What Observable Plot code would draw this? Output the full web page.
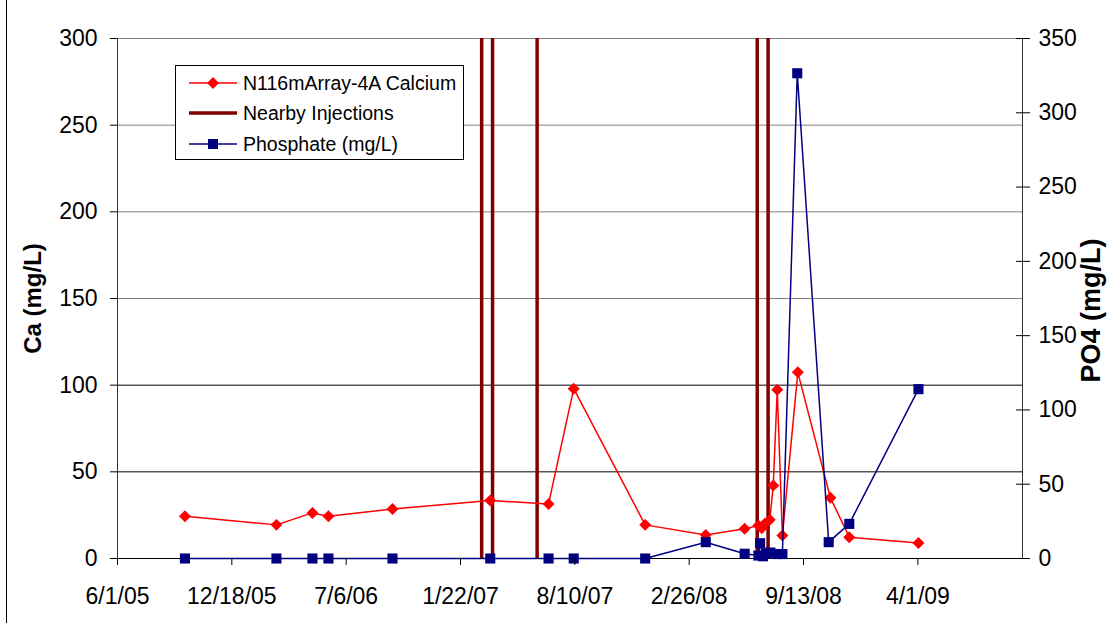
<!DOCTYPE html>
<html>
<head>
<meta charset="utf-8">
<script src="https://cdn.jsdelivr.net/npm/d3@7"></script>
<script src="https://cdn.jsdelivr.net/npm/@observablehq/plot@0.6"></script>
<style>
  html, body { margin: 0; padding: 0; background: #fff; }
  #wrap { position: relative; width: 1107px; height: 623px; overflow: hidden; font-family: "Liberation Sans", Arial, sans-serif; }
  #edge { position: absolute; left: 6px; top: 0; width: 1px; height: 623px; background: #000; }
  #legend { position: absolute; left: 175px; top: 65px; width: 289px; height: 95px; border: 1px solid #000; background: #fff; box-sizing: border-box; }
  .item { position: absolute; left: 0; height: 24px; display: flex; align-items: center; font-size: 19.5px; color: #000; white-space: nowrap; }
  .item svg { margin-left: 12px; margin-right: 5px; }
</style>
</head>
<body>
<div id="wrap">
  <div id="chart"></div>
  <div id="edge"></div>
  <div id="legend"></div>
</div>
<script>
// ---- data ----
const caDates = ["2005-09-27","2006-03-06","2006-05-08","2006-06-05","2006-09-25","2007-03-15","2007-06-25","2007-08-08","2007-12-11","2008-03-26","2008-06-02","2008-06-26","2008-07-02","2008-07-07","2008-07-16","2008-07-22","2008-07-29","2008-08-07","2008-09-03","2008-10-30","2008-12-02","2009-04-02"];
const caValues = [24.4, 19.4, 26.3, 24.4, 28.5, 33.4, 31.5, 98, 19.4, 13.5, 17.1, 19.0, 17.5, 20.0, 22.3, 42.1, 97.3, 13.3, 107.4, 35.0, 12.3, 9.0];

const po4Dates = ["2005-09-27","2006-03-06","2006-05-08","2006-06-05","2006-09-25","2007-03-15","2007-06-25","2007-08-08","2007-12-11","2008-03-26","2008-06-02","2008-06-26","2008-06-29","2008-07-04","2008-07-10","2008-07-17","2008-07-29","2008-08-07","2008-09-02","2008-10-27","2008-12-02","2009-04-02"];
const po4Values = [0, 0, 0, 0, 0, 0, 0, 0, 0, 11, 3.2, 2, 10.3, 1.5, 3.5, 4, 3, 3, 326.6, 11, 23.3, 114];

const injectionDates = ["2007-02-28","2007-03-19","2007-06-05","2008-06-24","2008-07-13"];

const xTickLabels = ["6/1/05","12/18/05","7/6/06","1/22/07","8/10/07","2/26/08","9/13/08","4/1/09"];
const xDomain = ["2005-06-01","2009-10-01"];
const caTicks = [0, 50, 100, 150, 200, 250, 300];
const po4Ticks = [0, 50, 100, 150, 200, 250, 300, 350];

const seriesNames = ["N116mArray-4A Calcium", "Nearby Injections", "Phosphate (mg/L)"];
const colors = {ca: "#ff0000", inj: "#800000", po4: "#000080"};

// ---- build ----
const parse = d3.utcParse("%m/%d/%y");
const xTicks = xTickLabels.map(parse);
const ratio = 300 / 350;
const ca = caDates.map((d, i) => ({date: new Date(d), value: caValues[i]}));
const po4 = po4Dates.map((d, i) => ({date: new Date(d), value: po4Values[i] * ratio}));
const inj = injectionDates.map(d => new Date(d));
const dom = xDomain.map(d => new Date(d));
const po4TickPos = po4Ticks.map(v => v * ratio);

const chart = Plot.plot({
  width: 1107,
  height: 623,
  marginLeft: 117,
  marginRight: 85,
  marginTop: 38,
  marginBottom: 65,
  style: {fontFamily: "'Liberation Sans', Arial, sans-serif", color: "#000", background: "transparent"},
  x: {type: "utc", domain: dom},
  y: {domain: [0, 300]},
  marks: [
    Plot.ruleY(caTicks.filter(v => v >= 150), {stroke: "#808080", strokeWidth: 1}),
    Plot.ruleY(caTicks.filter(v => v > 0 && v < 150), {stroke: "#000", strokeWidth: 1}),
    Plot.ruleX(inj, {x: d => d, y1: 0, y2: 300, stroke: colors.inj, strokeWidth: 3.5}),
    Plot.ruleX([dom[0]], {stroke: "#333"}),
    Plot.ruleX([dom[1]], {stroke: "#333"}),
    Plot.ruleY([0], {stroke: "#000"}),
    Plot.line(ca, {x: "date", y: "value", stroke: colors.ca, strokeWidth: 1.5}),
    Plot.dot(ca, {x: "date", y: "value", symbol: "diamond2", r: 5.4, fill: colors.ca, stroke: "none"}),
    Plot.line(po4, {x: "date", y: "value", stroke: colors.po4, strokeWidth: 1.5}),
    Plot.dot(po4, {x: "date", y: "value", symbol: "square", r: 5.7, fill: colors.po4, stroke: "none"}),
    Plot.axisX(xTicks, {tickSize: 7, tickPadding: 22, fontSize: 23, label: null, tickFormat: (d, i) => xTickLabels[i]}),
    Plot.axisY(caTicks, {anchor: "left", tickSize: 7, tickPadding: 13, fontSize: 23, label: null}),
    Plot.axisY(po4TickPos, {anchor: "right", tickSize: 7, tickPadding: 9, fontSize: 23, label: null, tickFormat: d => String(Math.round(d / ratio))}),
    Plot.axisY(po4TickPos, {anchor: "right", tickSize: 7, dx: -7, label: null, tickFormat: () => ""}),
    Plot.text(["Ca (mg/L)"], {frameAnchor: "left", textAnchor: "middle", dx: -84, rotate: -90, fontSize: 24, fontWeight: "bold", text: d => d}),
    Plot.text(["PO4 (mg/L)"], {frameAnchor: "right", textAnchor: "middle", dx: 69, dy: 12, rotate: -90, fontSize: 27, fontWeight: "bold", text: d => d})
  ]
});
document.getElementById("chart").appendChild(chart);

// ---- legend ----
const legend = document.getElementById("legend");
const rowsY = [5, 35, 66];
const swatches = [
  `<svg width="50" height="20"><line x1="1" y1="10" x2="49" y2="10" stroke="${colors.ca}" stroke-width="1.5"/><path d="M25,4 L31,10 L25,16 L19,10 Z" fill="${colors.ca}"/></svg>`,
  `<svg width="50" height="20"><line x1="1" y1="10" x2="49" y2="10" stroke="${colors.inj}" stroke-width="3.5"/></svg>`,
  `<svg width="50" height="20"><line x1="1" y1="10" x2="49" y2="10" stroke="${colors.po4}" stroke-width="1.5"/><rect x="20" y="5" width="10" height="10" fill="${colors.po4}"/></svg>`
];
seriesNames.forEach((name, i) => {
  const div = document.createElement("div");
  div.className = "item";
  div.style.top = rowsY[i] + "px";
  div.innerHTML = swatches[i] + `<span>${name}</span>`;
  legend.appendChild(div);
});
</script>
</body>
</html>
